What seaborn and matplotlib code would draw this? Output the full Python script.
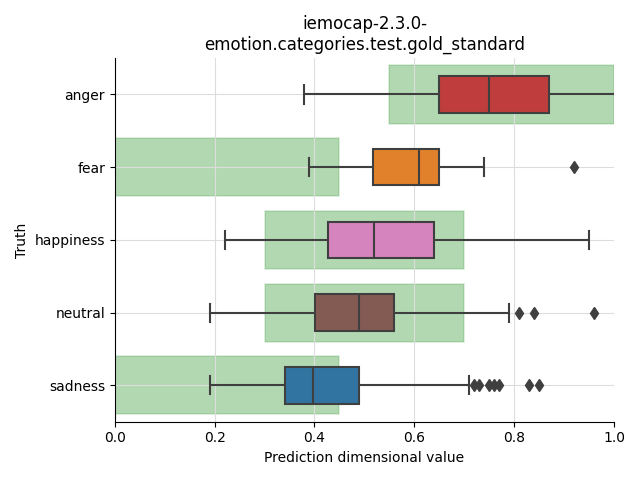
import matplotlib
matplotlib.use("Agg")
import matplotlib.pyplot as plt
import pandas as pd
import seaborn as sns

# Categories and box summary values
emotions = ["anger", "fear", "happiness", "neutral", "sadness"]
whisker_low = [0.379, 0.389, 0.220, 0.190, 0.190]
quartile_1 = [0.649, 0.518, 0.428, 0.402, 0.341]
median = [0.750, 0.610, 0.519, 0.489, 0.398]
quartile_3 = [0.870, 0.649, 0.639, 0.559, 0.490]
whisker_high = [1.050, 0.739, 0.949, 0.789, 0.709]
outliers = [
    [],
    [0.920],
    [],
    [0.810, 0.840, 0.960],
    [0.720, 0.730, 0.750, 0.760, 0.770, 0.830, 0.850],
]

# Expected (gold standard) ranges per emotion
range_low = [0.55, 0.0, 0.3, 0.3, 0.0]
range_high = [1.0, 0.45, 0.7, 0.7, 0.45]

colors = ["tab:red", "tab:orange", "tab:pink", "tab:brown", "tab:blue"]


def sample_from_stats(lo, q1, med, q3, hi, out):
    """Build a sample with n = 4k+1 values whose quartiles and whiskers match."""
    k = max(len(out) + 1, 2)
    values = [lo] + [q1] * k + [med] * k + [q3] * k
    values += [hi] * (k - len(out)) + list(out)
    return values


rows = []
for i, emo in enumerate(emotions):
    vals = sample_from_stats(
        whisker_low[i], quartile_1[i], median[i], quartile_3[i], whisker_high[i], outliers[i]
    )
    rows += [{"Truth": emo, "value": v} for v in vals]
df = pd.DataFrame(rows)

fig, ax = plt.subplots(figsize=(6.4, 4.8), dpi=100)

sns.boxplot(
    data=df,
    x="value",
    y="Truth",
    hue="Truth",
    order=emotions,
    palette=colors,
    width=0.5,
    linecolor="#3f3f3f",
    linewidth=1.5,
    saturation=0.75,
    flierprops=dict(marker="d", markerfacecolor="#3f3f3f", markeredgecolor="#3f3f3f", markersize=6),
    legend=False,
    ax=ax,
)

# Shaded expected ranges
ax.barh(
    y=range(len(emotions)),
    width=[h - l for l, h in zip(range_low, range_high)],
    left=range_low,
    height=0.8,
    facecolor=(0, 0.5, 0, 0.3),
    edgecolor=(0, 0.5, 0, 0.15),
    linewidth=1.2,
    zorder=0.5,
)

ax.set_xlim(0, 1)
ax.set_ylim(4.5, -0.5)
ax.grid(True, color="#dddddd", linewidth=0.8)
ax.set_axisbelow(True)
sns.despine(ax=ax)
ax.set_xlabel("Prediction dimensional value")
ax.set_ylabel("Truth")
ax.set_title("iemocap-2.3.0-\nemotion.categories.test.gold_standard")

plt.tight_layout()
plt.savefig("out.png")
